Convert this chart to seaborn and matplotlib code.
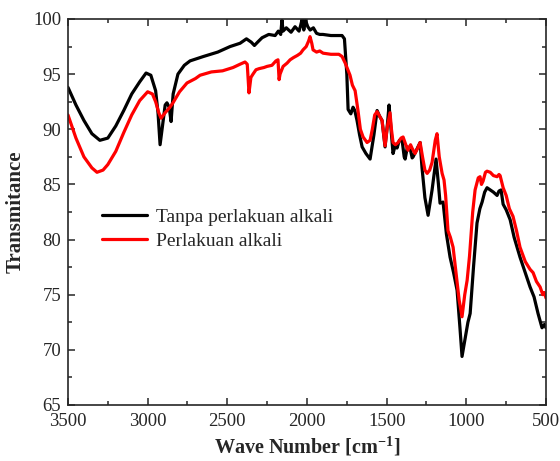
import numpy as np
import pandas as pd
import seaborn as sns
import matplotlib
matplotlib.use("Agg")
import matplotlib.pyplot as plt
from matplotlib.ticker import MultipleLocator

series_names = ["Tanpa perlakuan alkali", "Perlakuan alkali"]

wn_black = [3500, 3450, 3400, 3350, 3300, 3250, 3200, 3150, 3100, 3050, 3010, 2980, 2950, 2935,
            2922, 2905, 2890, 2879, 2865, 2853, 2840, 2810, 2770, 2734, 2650, 2560, 2483, 2420,
            2380, 2350, 2330, 2310, 2282, 2240, 2200, 2180, 2165, 2157, 2150, 2130, 2100, 2075,
            2050, 2040, 2030, 2020, 2010, 1995, 1980, 1960, 1940, 1920, 1900, 1850, 1800, 1780,
            1765, 1750, 1742, 1725, 1711, 1700, 1686, 1670, 1654, 1630, 1604, 1580, 1560, 1545,
            1529, 1510, 1495, 1485, 1470, 1460, 1445, 1435, 1420, 1403, 1390, 1384, 1370, 1353,
            1340, 1334, 1310, 1290, 1278, 1260, 1240, 1215, 1190, 1175, 1165, 1146, 1125, 1102,
            1080, 1058, 1040, 1027, 1010, 990, 976, 955, 933, 915, 901, 885, 870, 850, 830, 807,
            795, 782, 769, 750, 725, 700, 663, 630, 600, 575, 550, 535, 525, 510, 500]
t_black = [93.8, 92.2, 90.8, 89.6, 89.0, 89.2, 90.3, 91.7, 93.2, 94.3, 95.1, 94.9, 93.5, 91.5,
           88.6, 90.5, 92.2, 92.4, 92.0, 90.7, 93.2, 95.0, 95.8, 96.2, 96.6, 97.0, 97.5, 97.8,
           98.2, 97.9, 97.6, 97.9, 98.3, 98.6, 98.5, 98.9, 98.6, 99.9, 98.9, 99.2, 98.8, 99.3,
           98.9, 99.4, 100.0, 99.0, 99.9, 99.3, 99.0, 99.2, 98.7, 98.6, 98.6, 98.5, 98.5, 98.5,
           98.2, 95.0, 91.8, 91.4, 92.0, 91.7, 90.8, 89.5, 88.4, 87.8, 87.3, 89.5, 91.7, 91.2,
           90.8, 88.4, 90.5, 92.2, 89.5, 87.8, 88.6, 88.3, 89.0, 89.0, 87.5, 87.3, 88.4, 88.3,
           87.4, 87.5, 88.2, 88.8, 86.5, 83.8, 82.2, 84.5, 87.3, 85.0, 83.3, 83.4, 80.5, 78.4,
           77.0, 75.4, 72.0, 69.4, 70.8, 72.5, 73.3, 77.5, 81.5, 82.8, 83.4, 84.3, 84.7, 84.5,
           84.3, 84.0, 84.4, 84.5, 83.2, 82.7, 81.8, 80.2, 78.4, 77.0, 75.7, 74.8, 73.3, 72.5,
           72.0, 72.3, 72.0]

wn_red = [3500, 3450, 3400, 3350, 3318, 3280, 3250, 3200, 3150, 3100, 3050, 3000, 2970, 2950,
          2930, 2916, 2890, 2860, 2841, 2800, 2753, 2700, 2671, 2600, 2530, 2464, 2420, 2389,
          2375, 2364, 2352, 2339, 2320, 2300, 2270, 2251, 2220, 2195, 2182, 2175, 2169, 2150,
          2125, 2106, 2085, 2060, 2040, 2025, 2005, 1990, 1981, 1970, 1962, 1940, 1920, 1899,
          1850, 1800, 1780, 1760, 1730, 1715, 1698, 1680, 1665, 1648, 1623, 1604, 1590, 1575,
          1560, 1545, 1529, 1510, 1495, 1479, 1470, 1460, 1445, 1428, 1410, 1397, 1380, 1366,
          1350, 1341, 1322, 1305, 1290, 1275, 1260, 1246, 1230, 1215, 1195, 1184, 1170, 1152,
          1140, 1130, 1115, 1100, 1083, 1065, 1045, 1027, 1010, 995, 980, 960, 945, 925, 914,
          905, 895, 880, 870, 850, 830, 807, 795, 788, 769, 750, 730, 707, 685, 663, 630, 600,
          581, 560, 537, 520, 510, 500]
t_red = [91.3, 89.2, 87.5, 86.5, 86.1, 86.3, 86.8, 88.0, 89.7, 91.3, 92.6, 93.4, 93.2, 92.5,
         91.5, 91.0, 91.5, 92.0, 92.4, 93.4, 94.2, 94.6, 94.9, 95.2, 95.3, 95.6, 95.9, 96.1,
         95.9, 93.3, 94.7, 95.0, 95.4, 95.5, 95.6, 95.7, 95.8, 96.2, 96.3, 94.5, 95.0, 95.7,
         96.0, 96.3, 96.5, 96.7, 96.9, 97.2, 97.5, 98.0, 98.4, 97.8, 97.2, 97.0, 97.1, 96.9,
         96.8, 96.8, 96.6, 96.0, 94.9, 94.0, 93.5, 91.7, 90.0, 89.3, 88.8, 89.0, 90.0, 91.3,
         91.6, 91.2, 90.8, 88.5, 90.3, 91.5, 90.0, 88.8, 88.6, 88.8, 89.2, 89.3, 88.6, 88.1,
         88.6, 88.3, 87.8, 88.3, 88.8, 87.5, 86.3, 86.0, 86.3, 87.0, 89.0, 89.6, 87.5, 86.0,
         85.4, 84.0, 80.8, 80.2, 79.3, 77.0, 74.5, 73.0, 75.0, 76.3, 78.5, 82.5, 84.5, 85.6, 85.7,
         85.0, 85.3, 86.1, 86.2, 86.1, 85.8, 85.7, 85.9, 85.8, 84.7, 84.0, 82.8, 82.1, 80.8, 79.3,
         78.0, 77.3, 77.0, 76.2, 75.7, 75.0, 75.2, 74.7]

x_ticks = [3500, 3000, 2500, 2000, 1500, 1000, 500]
y_ticks = [65, 70, 75, 80, 85, 90, 95, 100]

df = pd.concat([
    pd.DataFrame({"wn": wn_black, "T": t_black, "sample": series_names[0]}),
    pd.DataFrame({"wn": wn_red, "T": t_red, "sample": series_names[1]}),
], ignore_index=True)

sns.set_style("ticks")
plt.rcParams["font.family"] = ["Liberation Serif", "DejaVu Serif"]
plt.rcParams["mathtext.fontset"] = "custom"
plt.rcParams["mathtext.rm"] = "Liberation Serif"
plt.rcParams["mathtext.bf"] = "Liberation Serif:bold"

fig = plt.figure(figsize=(5.6, 4.61), dpi=100)
ax = fig.add_axes([0.1214, 0.1215, 0.975 - 0.1214, 0.9588 - 0.1215])

sns.lineplot(data=df, x="wn", y="T", hue="sample", sort=False, estimator=None,
             palette=["black", "#ff0000"], linewidth=2.3, ax=ax)

ax.set_xlim(3500, 500)
ax.set_ylim(65, 100)
ax.set_xticks(x_ticks)
ax.set_yticks(y_ticks)
ax.xaxis.set_minor_locator(MultipleLocator(250))
ax.yaxis.set_minor_locator(MultipleLocator(2.5))
ax.tick_params(which="both", direction="in", top=True, right=True, width=1.1, labelsize=13.5)
ax.tick_params(which="major", length=5)
ax.tick_params(which="minor", length=3)
ax.tick_params(axis="x", pad=6)
ax.tick_params(axis="y", pad=5)
for s in ax.spines.values():
    s.set_linewidth(1.2)

ax.set_xlabel(r"Wave Number [cm$^{\mathbf{-1}}$]", fontsize=14.5, fontweight="bold", labelpad=3)
ax.set_ylabel("Transmitance", fontsize=15, fontweight="bold", labelpad=5)

ax.legend(loc="upper left", bbox_to_anchor=(0.055, 0.53), frameon=False, fontsize=14,
          handlelength=2.3, handletextpad=0.5, borderaxespad=0, labelspacing=0.35)

fig.savefig("out.png", dpi=100)
